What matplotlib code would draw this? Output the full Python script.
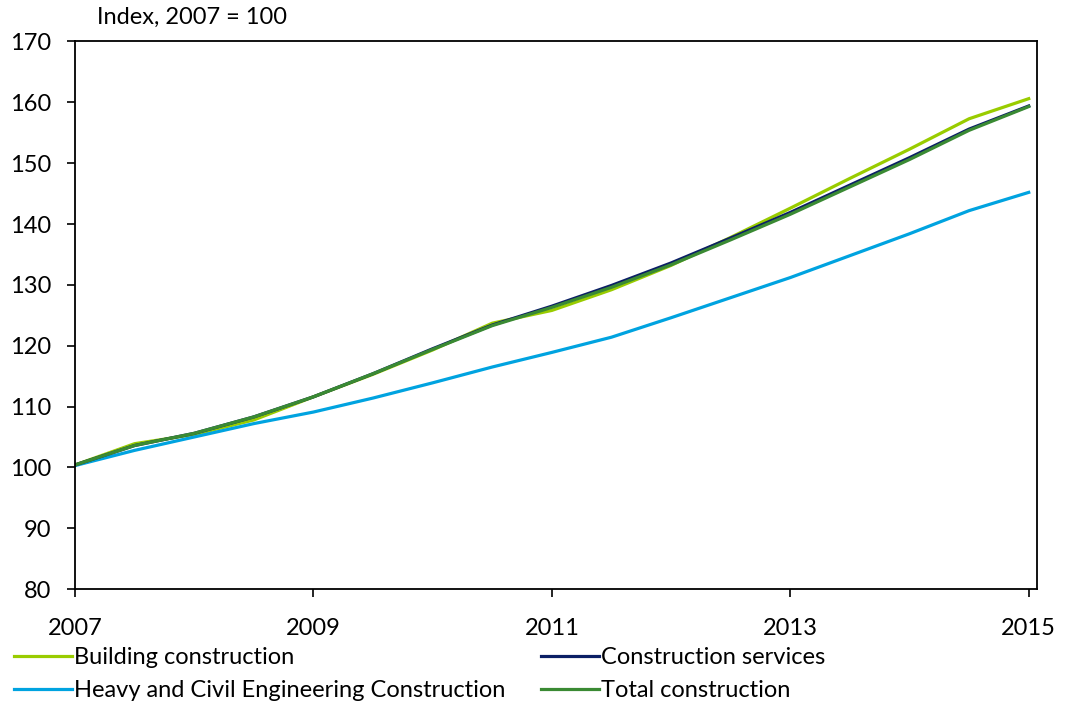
import numpy as np
import matplotlib
matplotlib.use('Agg')
import matplotlib.pyplot as plt

plt.rcParams['font.family'] = ['Lato', 'DejaVu Sans']

# half-yearly index values, 2007 = 100
years = [2007.0, 2007.5, 2008.0, 2008.5, 2009.0, 2009.5, 2010.0, 2010.5, 2011.0,
         2011.5, 2012.0, 2012.5, 2013.0, 2013.5, 2014.0, 2014.5, 2015.0]
building = [100.4, 103.9, 105.4, 107.8, 111.6, 115.3, 119.3, 123.7, 125.8,
            129.2, 133.2, 137.8, 142.6, 147.5, 152.3, 157.3, 160.6]
services = [100.4, 103.6, 105.6, 108.3, 111.6, 115.4, 119.5, 123.4, 126.5,
            129.9, 133.6, 137.7, 141.9, 146.4, 150.9, 155.6, 159.4]
heavy = [100.3, 102.8, 105.0, 107.2, 109.1, 111.4, 113.9, 116.5, 118.9,
         121.4, 124.6, 127.9, 131.2, 134.8, 138.4, 142.2, 145.2]
total = [100.4, 103.6, 105.6, 108.3, 111.6, 115.4, 119.4, 123.3, 126.3,
         129.6, 133.3, 137.4, 141.6, 146.1, 150.6, 155.4, 159.3]

xticks = [2007, 2009, 2011, 2013, 2015]
yticks = [80, 90, 100, 110, 120, 130, 140, 150, 160, 170]

fs = 17

fig = plt.figure(figsize=(10.68, 7.03), dpi=100)
ax = fig.add_axes([0.0702, 0.162, 0.9005, 0.779])

lw = 2.3
ax.plot(years, building, color='#99CC00', lw=lw, label='Building construction')
ax.plot(years, heavy, color='#00A3E0', lw=lw, label='Heavy and Civil Engineering Construction')
ax.plot(years, services, color='#0B1F65', lw=lw, label='Construction services')
ax.plot(years, total, color='#3A8A33', lw=lw, label='Total construction')

ax.set_xlim(2007, 2015.067)
ax.set_ylim(80, 170)
ax.set_xticks(xticks)
ax.set_yticks(yticks)
ax.tick_params(direction='out', length=6, width=1.2, labelsize=fs)
ax.tick_params(axis='x', pad=15)
ax.tick_params(axis='y', pad=11)
for s in ax.spines.values():
    s.set_linewidth(1.3)

fig.text(0.091, 0.975, 'Index, 2007 = 100', fontsize=fs, va='center', ha='left')

handles, labels = ax.get_legend_handles_labels()
fig.legend(handles, labels, loc='upper left', bbox_to_anchor=(0.013, 0.079),
           ncol=2, frameon=False, fontsize=fs, handlelength=2.45,
           handletextpad=0.1, columnspacing=1.5, labelspacing=0.5,
           borderaxespad=0, borderpad=0)

fig.savefig('out.png', dpi=100)
